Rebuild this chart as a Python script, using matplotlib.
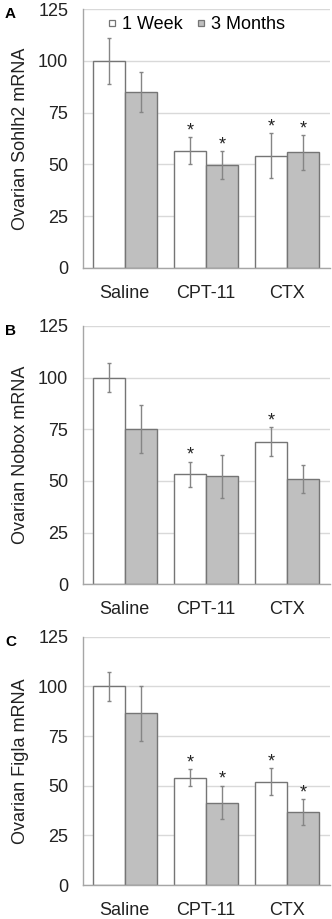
import matplotlib
matplotlib.use("Agg")
import matplotlib.pyplot as plt
from matplotlib.lines import Line2D
import numpy as np

plt.rcParams['font.family'] = ['Liberation Sans', 'DejaVu Sans']

categories = ["Saline", "CPT-11", "CTX"]
series_names = ["1 Week", "3 Months"]
yticks = [0, 25, 50, 75, 100, 125]

# Panel A: Sohlh2
a_week = [100, 56.6, 54.2]
a_week_err = [11.0, 6.4, 10.9]
a_months = [85.0, 49.7, 55.8]
a_months_err = [9.8, 6.8, 8.4]
a_week_sig = [False, True, True]
a_months_sig = [False, True, True]

# Panel B: Nobox
b_week = [100, 53.2, 69.0]
b_week_err = [7.0, 6.2, 7.0]
b_months = [75.0, 52.3, 51.0]
b_months_err = [11.6, 10.3, 6.6]
b_week_sig = [False, True, True]
b_months_sig = [False, False, False]

# Panel C: Figla
c_week = [100, 54.1, 52.1]
c_week_err = [7.4, 4.2, 6.7]
c_months = [86.4, 41.5, 36.8]
c_months_err = [13.8, 8.5, 6.5]
c_week_sig = [False, True, True]
c_months_sig = [False, True, True]

panels = [
    ("A", "Ovarian Sohlh2 mRNA", a_week, a_week_err, a_months, a_months_err, a_week_sig, a_months_sig),
    ("B", "Ovarian Nobox mRNA", b_week, b_week_err, b_months, b_months_err, b_week_sig, b_months_sig),
    ("C", "Ovarian Figla mRNA", c_week, c_week_err, c_months, c_months_err, c_week_sig, c_months_sig),
]

W, H = 332, 919
fig = plt.figure(figsize=(W / 100, H / 100), dpi=100)

# axes boxes in pixels: (top, bottom)
boxes = [(9, 268), (326, 584.3), (636.7, 885)]
left_px, right_px = 82.7, 330

fs = 13
edge = "#757575"
gray = "#bfbfbf"
err_col = "#858585"
bw = 0.394
x = np.arange(len(categories))

for i, (letter, ylabel, wk, wke, mo, moe, wsig, msig) in enumerate(panels):
    top, bot = boxes[i]
    ax = fig.add_axes([left_px / W, (H - bot) / H, (right_px - left_px) / W, (bot - top) / H])
    ax.set_ylim(0, 125)
    ax.set_xlim(-0.517, 2.525)
    ax.set_yticks(yticks)
    ax.yaxis.grid(True, color="#d9d9d9", linewidth=1)
    ax.set_axisbelow(True)
    for s in ["top", "right"]:
        ax.spines[s].set_visible(False)
    for s in ["left", "bottom"]:
        ax.spines[s].set_color("#a6a6a6")
        ax.spines[s].set_linewidth(1)
    ax.bar(x - bw / 2, wk, bw, color="white", edgecolor=edge, linewidth=1, label=series_names[0])
    ax.bar(x + bw / 2, mo, bw, color=gray, edgecolor=edge, linewidth=1, label=series_names[1])
    ax.errorbar(x - bw / 2, wk, yerr=wke, fmt="none", ecolor=err_col, elinewidth=1, capsize=1.2, capthick=1)
    ax.errorbar(x + bw / 2, mo, yerr=moe, fmt="none", ecolor=err_col, elinewidth=1, capsize=1.2, capthick=1)
    for j in range(len(categories)):
        if wsig[j]:
            ax.annotate("*", (x[j] - bw / 2, wk[j] + wke[j]), xytext=(0, -1.5), textcoords="offset points",
                        ha="center", va="bottom", fontsize=13, color="#222222")
        if msig[j]:
            ax.annotate("*", (x[j] + bw / 2, mo[j] + moe[j]), xytext=(0, -1.5), textcoords="offset points",
                        ha="center", va="bottom", fontsize=13, color="#222222")
    ax.set_xticks(x)
    ax.set_xticklabels(categories)
    ax.tick_params(axis="both", length=0, labelsize=fs, colors="#222222")
    ax.tick_params(axis="y", pad=10.4)
    ax.tick_params(axis="x", pad=12)
    ax.set_ylabel(ylabel, fontsize=fs, color="#222222")
    ax.yaxis.set_label_coords(-(left_px - 29) / (right_px - left_px), 0.5)
    fig.text(5 / W, 1 - (top + 5) / H, letter, fontsize=11, fontweight="bold", ha="left", va="center")
    if i == 0:
        handles = [
            Line2D([], [], ls="none", marker="s", markersize=5, markerfacecolor="white",
                   markeredgecolor=edge, markeredgewidth=0.9),
            Line2D([], [], ls="none", marker="s", markersize=5, markerfacecolor=gray,
                   markeredgecolor=edge, markeredgewidth=0.9),
        ]
        ax.legend(handles, series_names, loc="center", bbox_to_anchor=(0.46, 0.94), ncol=2,
                  frameon=False, fontsize=fs, handlelength=0.45, handletextpad=0.3,
                  columnspacing=0.8, borderaxespad=0.0, borderpad=0.0)

fig.savefig("out.png", dpi=100)
